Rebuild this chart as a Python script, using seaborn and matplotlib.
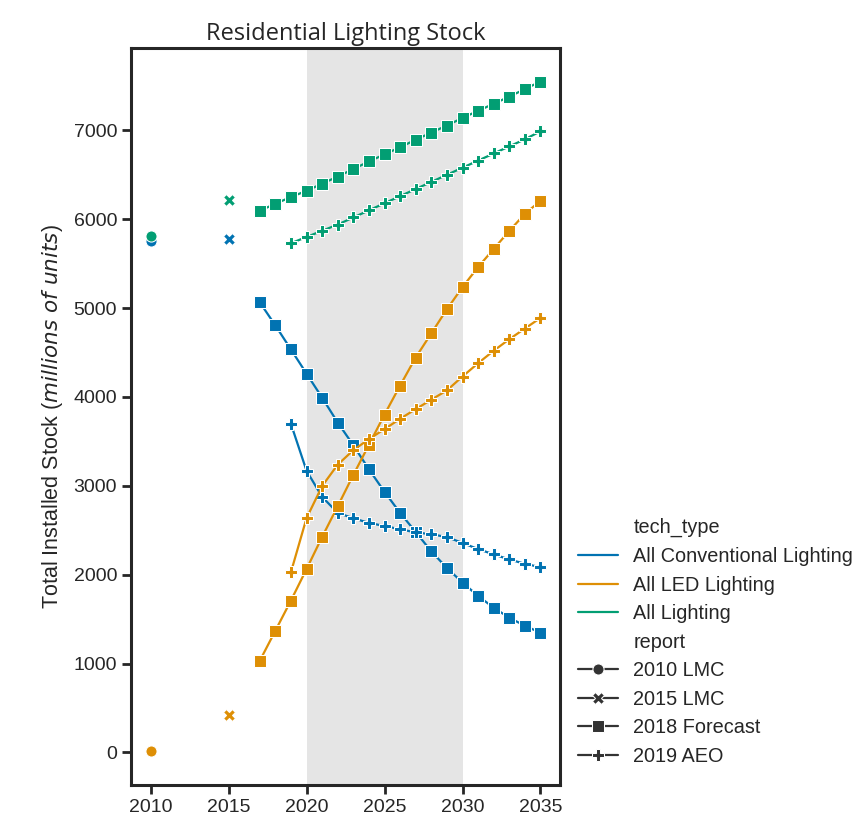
import numpy as np
import pandas as pd
import matplotlib
matplotlib.use("Agg")
import matplotlib.pyplot as plt
import seaborn as sns

# ---- data (millions of units) ----
tech_types = ["All Conventional Lighting", "All LED Lighting", "All Lighting"]
reports = ["2010 LMC", "2015 LMC", "2018 Forecast", "2019 AEO"]

years_2010 = [2010]
lmc2010_conv = [5760]
lmc2010_led = [10]
lmc2010_all = [5810]

years_2015 = [2015]
lmc2015_conv = [5780]
lmc2015_led = [420]
lmc2015_all = [6220]

years_2018 = list(range(2017, 2036))
fc2018_conv = [5066, 4806, 4535, 4263, 3992, 3712, 3457, 3186, 2932, 2695,
               2480, 2262, 2075, 1911, 1760, 1628, 1515, 1425, 1346]
fc2018_led = [1029, 1368, 1708, 2062, 2424, 2770, 3122, 3460, 3802, 4128,
              4444, 4716, 4987, 5236, 5462, 5666, 5869, 6061, 6208]
fc2018_all = [6095, 6174, 6250, 6320, 6400, 6480, 6565, 6650, 6730, 6810,
              6895, 6975, 7055, 7140, 7220, 7300, 7380, 7465, 7550]

years_2019 = list(range(2019, 2036))
aeo2019_conv = [3698, 3170, 2876, 2695, 2635, 2582, 2548, 2510, 2476, 2454,
                2424, 2356, 2288, 2228, 2171, 2122, 2084]
aeo2019_led = [2027, 2635, 2997, 3238, 3401, 3525, 3638, 3754, 3863, 3969,
               4074, 4230, 4380, 4520, 4650, 4770, 4890]
aeo2019_all = [5730, 5800, 5870, 5940, 6020, 6100, 6180, 6260, 6340, 6420,
               6500, 6580, 6660, 6740, 6820, 6900, 6990]

series = [
    ("2010 LMC", years_2010, [lmc2010_conv, lmc2010_led, lmc2010_all]),
    ("2015 LMC", years_2015, [lmc2015_conv, lmc2015_led, lmc2015_all]),
    ("2018 Forecast", years_2018, [fc2018_conv, fc2018_led, fc2018_all]),
    ("2019 AEO", years_2019, [aeo2019_conv, aeo2019_led, aeo2019_all]),
]

rows = []
for rep, yrs, vals in series:
    for tech, v in zip(tech_types, vals):
        for yr, val in zip(yrs, v):
            rows.append({"year": yr, "stock": val, "tech_type": tech, "report": rep})
df = pd.DataFrame(rows)

# ---- plot ----
sns.set_theme(style="ticks")
plt.rcParams["font.family"] = ["Liberation Sans", "DejaVu Sans"]
plt.rcParams["axes.linewidth"] = 2.2
plt.rcParams["xtick.major.width"] = 2
plt.rcParams["ytick.major.width"] = 2
plt.rcParams["xtick.major.size"] = 6.5
plt.rcParams["ytick.major.size"] = 6.5

fig = plt.figure(figsize=(8.53, 8.31), dpi=100)
ax = fig.add_axes([0.1536, 0.0554, 0.5029, 0.8868])

# highlighted decade
ax.axvspan(2020, 2030, color="#e5e5e5", lw=0, zorder=0)

sns.lineplot(data=df, x="year", y="stock", hue="tech_type", style="report",
             hue_order=tech_types, style_order=reports,
             markers=["o", "X", "s", "P"], dashes=False,
             palette="colorblind", lw=1.6, markersize=8, ax=ax)

ax.set_title("Residential Lighting Stock", fontsize=17, family="Open Sans")
ax.set_ylabel("Total Installed Stock ($\\it{millions\\ of\\ units}$)",
              fontsize=15.5, labelpad=6)
ax.set_xlabel("year", fontsize=14, labelpad=12)
ax.tick_params(labelsize=14, colors="#262626")
ax.set_xticks([2010, 2015, 2020, 2025, 2030, 2035])

sns.move_legend(ax, "center left", bbox_to_anchor=(1.0, 0.194),
                frameon=False, fontsize=14.3, labelspacing=0.48)

plt.savefig("out.png", dpi=100)
